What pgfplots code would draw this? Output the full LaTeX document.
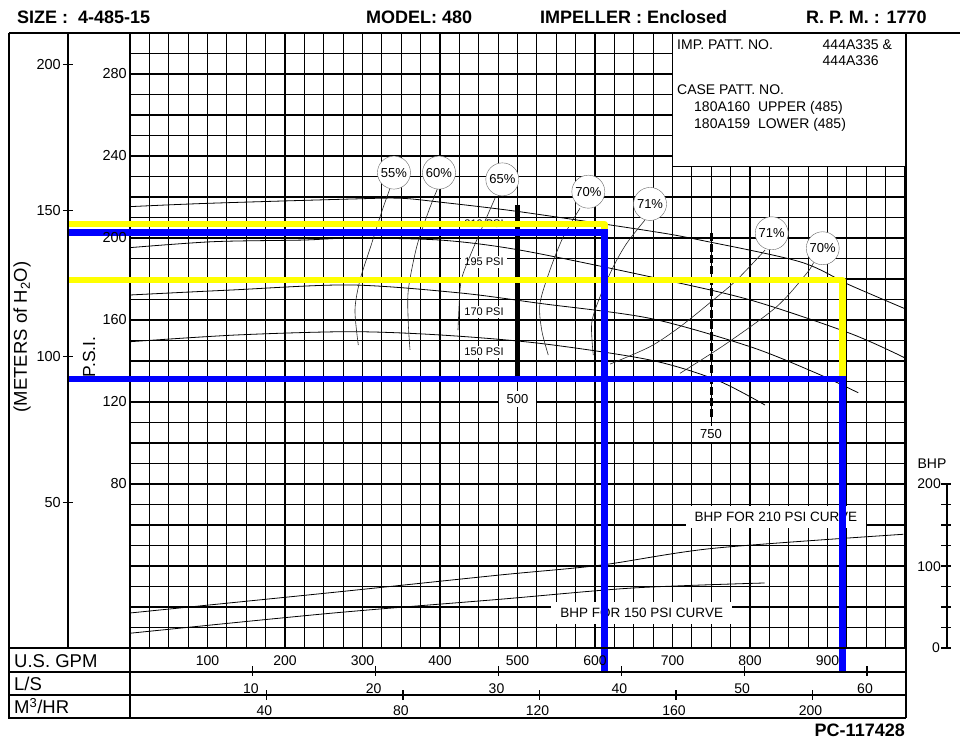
\documentclass[border=0pt]{standalone}
\usepackage{pgfplots}
\pgfplotsset{compat=1.18}
\usepackage{fontspec}
\setmainfont{Liberation Sans}
\newfontfamily\nar[FakeStretch=0.85]{Liberation Sans}
\newcommand\fs[1]{\fontsize{#1}{#1}\selectfont}
\definecolor{yel}{RGB}{255,255,0}
\definecolor{blu}{RGB}{0,0,255}
\pgfplotsset{
  headc/.style={black, line width=0.8pt, smooth, mark=none},
  effc/.style={black!85, line width=0.6pt, smooth, mark=none},
  bhpc/.style={black, line width=0.8pt, smooth, mark=none, y filter/.expression={y/2.5}},
}
\tikzset{
  pct/.style={circle, draw=black!60, fill=white, inner sep=0pt, minimum size=33pt, font=\fs{13}},
  psil/.style={fill=white, inner xsep=3pt, inner ysep=2pt, font=\fs{11}},
}
\begin{document}
\begin{tikzpicture}
\path[use as bounding box] (-130pt,-92pt) rectangle (830pt,648pt);
\begin{axis}[
  x=0.775pt, y=2.05pt, anchor=origin, at={(0pt,0pt)},
  xmin=0, xmax=1000, ymin=0, ymax=300,
  scale only axis, clip=false,
  axis line style={line width=1.2pt},
  xtick={0,25,...,1000}, ytick={0,10,...,300},
  xticklabels={}, yticklabels={},
  major tick length=0pt,
  grid=major, major grid style={black, line width=1.1pt},
]
% info box
\fill[white] (axis cs:700,235) rectangle (axis cs:1000,300);
\draw[line width=1.1pt] (axis cs:700,300) -- (axis cs:700,235) -- (axis cs:1000,235);

% labels under curves
\node[psil] at (axis cs:456.8,206.8) {210 PSI};
\node[psil] at (axis cs:456.8,188.3) {195 PSI};
\node[psil] at (axis cs:456.8,163.9) {170 PSI};
\node[psil] at (axis cs:456.8,144.4) {150 PSI};
\node[fill=white, inner xsep=8pt, inner ysep=3pt, font=\fs{13}] at (axis cs:500,121.5) {500};
\node[fill=white, inner xsep=8pt, inner ysep=3pt, font=\fs{13}] at (axis cs:749.7,104.4) {750};
\node[fill=white, inner xsep=9pt, inner ysep=6pt, font=\fs{13.5}] at (axis cs:833.5,63.9) {BHP FOR 210 PSI CURVE};
\node[fill=white, inner xsep=9pt, inner ysep=6pt, font=\fs{13.5}] at (axis cs:660.3,17.1) {BHP FOR 150 PSI CURVE};

% head curves (psi vs GPM)
\addplot[headc] coordinates {(0,215.3) (99.4,216.9) (283.9,219.0) (348.4,219.4) (400,217.5) (503.2,212.8) (671,203.4) (735.5,199.0) (864.5,188.4) (929,177) (1000,165.5)};
\addplot[headc] coordinates {(0,195.3) (107.1,198.2) (223.2,199.0) (283.9,199.9) (400,199.0) (503.2,194.1) (671,181.1) (800,169.8) (929,153.5) (1000,141.5)};
\addplot[headc] coordinates {(0,172.2) (129,174.6) (283.9,177.1) (425.8,173.2) (529,168.1) (671,160.8) (800,147.0) (886,134.0) (939.7,124.5)};
\addplot[headc] coordinates {(0,149.4) (137.7,152.7) (283.9,154.3) (400,152.7) (529,148.6) (671,140.5) (757,130.7) (819.4,118.5)};

% BHP curves (BHP vs GPM)
\addplot[bhpc] coordinates {(0,42.7) (258,67.4) (477,89) (607,101) (753,121.6) (998,138.7)};
\addplot[bhpc] coordinates {(0,18) (258,42.3) (477,59.4) (649,73.2) (819,79.3)};

% efficiency curves
\addplot[effc] coordinates {(335.5,224.2) (324.8,212.8) (311.9,197.4) (296.8,179.5) (290.3,164.9) (294.6,147.8)};
\addplot[effc] coordinates {(397.8,225.0) (385,212.8) (370,195.8) (359.1,174.6) (359.1,158.4) (361.3,145.4)};
\addplot[effc] coordinates {(471,219.4) (447.4,199) (430,182.8) (425.8,174.6) (423.2,155.1)};
\addplot[effc] coordinates {(580.6,214.5) (559.1,200.6) (541.9,184.4) (529,168.1) (531.2,155.1) (539.7,142.9)};
\addplot[effc] coordinates {(664.5,208.8) (640.9,197.4) (623.6,186.0) (606.5,171.4) (595.7,158.4) (597.8,142.9)};
\addplot[effc] coordinates {(819.4,194.1) (782.8,179.5) (752.7,169.8) (709.7,156.7) (671,147) (619.4,138.5)};
\addplot[effc] coordinates {(882,188) (873.2,182.8) (834.4,166.5) (769.9,148.6) (709.7,134)};

% vertical marker lines
\addplot[black, line width=4.5pt, mark=none] coordinates {(500,216.1) (500,131.7)};
\addplot[black, line width=3.5pt, mark=none, dash pattern=on 8pt off 3pt] coordinates {(750,202.4) (750,112.2)};

% efficiency circles
\node[pct] at (axis cs:340.6,231.9) {55\%};
\node[pct] at (axis cs:398.7,231.9) {60\%};
\node[pct] at (axis cs:480.4,228.6) {65\%};
\node[pct] at (axis cs:591.4,222.6) {70\%};
\node[pct] at (axis cs:671,216.6) {71\%};
\node[pct] at (axis cs:828,202.3) {71\%};
\node[pct] at (axis cs:893.8,195.0) {70\%};

% duty point lines
\addplot[yel, line width=6.5pt, mark=none, line join=round] coordinates {(-81.5,206.8) (612,206.8) (612,200)};
\addplot[yel, line width=6.5pt, mark=none, line join=round] coordinates {(-81.5,179.5) (919.6,179.5) (919.6,131.2)};
\addplot[blu, line width=6.5pt, mark=none] coordinates {(-81.5,202.8) (612,202.8) (612,-11.7)};
\addplot[blu, line width=6.5pt, mark=none] coordinates {(-81.5,131.2) (919.6,131.2) (919.6,-11.7)};
\end{axis}

\begin{scope}[x=1pt,y=-1pt,shift={(-130pt,648pt)}]
 % frame
 \draw[line width=1.2pt] (9,33) -- (960,33);
 \draw[line width=1.2pt] (9,33) -- (9,718) -- (906,718);
 \draw[line width=2.6pt] (906,33) -- (906,718);
 \draw[line width=1.2pt] (68,33) -- (68,648);
 \draw[line width=1.2pt] (9,648) -- (906,648);
 \draw[line width=1.2pt] (9,672) -- (906,672);
 \draw[line width=1.2pt] (9,695) -- (906,695);
 \draw[line width=1.2pt] (130,648) -- (130,718);
 % header
 \node[anchor=base west, inner sep=0pt, font=\bfseries\fs{18}] at (17,23.3) {SIZE :\ \ 4-485-15};
 \node[anchor=base west, inner sep=0pt, font=\bfseries\fs{18}] at (366,23.3) {MODEL: 480};
 \node[anchor=base west, inner sep=0pt, font=\bfseries\fs{18}] at (540,23.3) {IMPELLER : Enclosed};
 \node[anchor=base west, inner sep=0pt, font=\bfseries\fs{18}] at (806,23.3) {R. P. M. : 1770};
 \node[anchor=base east, inner sep=0pt, font=\bfseries\fs{18}] at (905,736) {PC-117428};
 % info box text
 \node[anchor=base west, inner sep=0pt, font=\fs{14}] at (677,49.5) {IMP. PATT. NO.};
 \node[anchor=base west, inner sep=0pt, font=\fs{14}] at (822.5,49.5) {444A335 \&};
 \node[anchor=base west, inner sep=0pt, font=\fs{14}] at (822.5,66) {444A336};
 \node[anchor=base west, inner sep=0pt, font=\fs{14}] at (677,95) {CASE PATT. NO.};
 \node[anchor=base west, inner sep=0pt, font=\fs{14}] at (694,111.5) {180A160\ \ UPPER (485)};
 \node[anchor=base west, inner sep=0pt, font=\fs{14}] at (694,129) {180A159\ \ LOWER (485)};
 % PSI axis labels
 \foreach \p in {80,120,...,280} {
   \node[anchor=east, inner sep=0pt, font=\fs{14.5}] at (127,{648-2.05*\p}) {\p};
 }
 % meters axis
 \foreach \m in {50,100,150,200} {
   \draw[line width=1.2pt] (63,{648-2.9157*\m}) -- (73,{648-2.9157*\m});
   \node[anchor=east, inner sep=0pt, font=\fs{14.5}] at (61,{648-2.9157*\m}) {\m};
 }
 \node[rotate=90, font=\fs{18.5}] at (22,337) {(METERS of H\textsubscript{2}O)};
 \node[rotate=90, font=\fs{17.5}] at (89,357) {P.S.I.};
 % BHP axis
 \draw[line width=1.2pt] (947,484) -- (947,648);
 \foreach \k in {0,...,8} {
   \draw[line width=1.1pt] (941,{648-20.5*\k}) -- (951,{648-20.5*\k});
 }
 \node[font=\fs{14}] at (932,464) {BHP};
 \node[anchor=east, inner sep=0pt, font=\fs{14}] at (941,484) {200};
 \node[anchor=east, inner sep=0pt, font=\fs{14}] at (941,567) {100};
 \node[anchor=east, inner sep=0pt, font=\fs{14}] at (940,648) {0};
 % bottom rows
 \node[anchor=west, inner sep=0pt, font=\fs{18.5}] at (14,661) {U.S. GPM};
 \node[anchor=west, inner sep=0pt, font=\fs{18.5}] at (14,684) {L/S};
 \node[anchor=west, inner sep=0pt, font=\fs{18.5}] at (14,706) {M\textsuperscript{3}/HR};
 \foreach \g in {100,200,...,900} {
   \node[font=\fs{14}] at ({130+0.775*\g},661) {\g};
 }
 \foreach \v in {10,20,...,60} {
   \draw[line width=1.1pt] ({130+0.775*15.85*\v},666) -- ({130+0.775*15.85*\v},676);
   \node[font=\fs{14}] at ({128+0.775*15.85*\v},689) {\v};
 }
 \foreach \v in {40,80,...,200} {
   \draw[line width=1.1pt] ({130+0.775*4.4029*\v},690) -- ({130+0.775*4.4029*\v},700);
   \node[font=\fs{14}] at ({128+0.775*4.4029*\v},711) {\v};
 }
\end{scope}
\end{tikzpicture}
\end{document}
